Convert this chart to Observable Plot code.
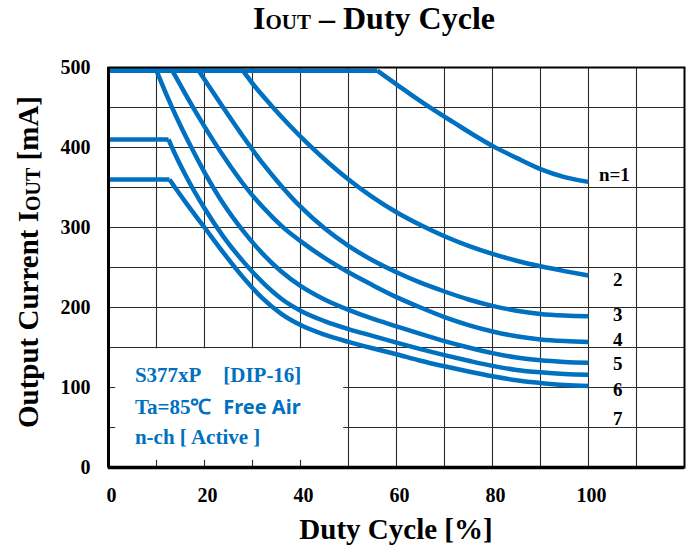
<!DOCTYPE html>
<html><head><meta charset="utf-8">
<script src="https://cdn.jsdelivr.net/npm/d3@7"></script>
<script src="https://cdn.jsdelivr.net/npm/@observablehq/plot@0.6"></script>
<style>
body{margin:0;background:#fff;}
#title{height:46px;line-height:45px;font:bold 32px "Liberation Serif",serif;text-align:center;padding-left:56px;box-sizing:border-box;width:692px;color:#000;}
#title .sub{font-size:21px;}
#chart svg{overflow:visible;display:block;}
</style></head><body>
<div id="title">I<span class="sub">OUT</span> – Duty Cycle</div>
<div id="chart"></div>
<script>
// ---- data ----
const xTicks = [0, 20, 40, 60, 80, 100];
const yTicks = [0, 100, 200, 300, 400, 500];
const xGrid = [10, 20, 30, 40, 50, 60, 70, 80, 90, 100, 110];
const yGrid = [50, 100, 150, 200, 250, 300, 350, 400, 450];
const seriesNames = ["n=1", "2", "3", "4", "5", "6", "7"];

const n1 = [[0,496],[56,496],[60,479],[64,462],[68,446],[72,431],[76,416],[80,402],[85,387],[90,373],[95,363],[100,357]];
const n2 = [[0,496],[28,496],[30,480],[34,452],[38,426],[42,402],[46,380],[50,360],[55,338],[60,319],[65,303],[70,289],[75,277],[80,267],[85,258.5],[90,251.5],[95,245.5],[100,240]];
const n3 = [[0,496],[18.8,496],[21,476],[24,449],[28,414],[32,381],[36,352],[40,326],[45,299],[50,277],[55,259],[60,244],[65,231],[70,220],[75,210],[80,202],[85,196],[90,192],[95,190],[100,189]];
const n4 = [[0,496],[13.3,496],[16,467],[19,436],[22,407],[25,380],[28,355],[31,333],[34,314],[37,297],[40,283],[45,262],[50,244],[55,228],[60,213],[65,200],[70,188],[75,178],[80,170],[85,164],[90,160],[95,158],[100,157]];
const n5 = [[0,496],[10,496],[12,467],[14,440],[17,403],[20,369],[24,329],[28,296],[32,268],[36,245],[40,227],[45,210],[50,197],[55,186],[60,176.5],[65,167],[70,158],[75,150],[80,143],[85,137.5],[90,134],[95,132],[100,131]];
const n6 = [[0,410],[12.5,410],[14,390],[16,366],[20,324],[24,288],[28,258],[32,232],[36,211],[40,196],[45,183],[50,173],[55,164.5],[60,156],[65,148],[70,140.5],[75,133.5],[80,127],[85,122],[90,119],[95,117],[100,116]];
const n7 = [[0,360],[12.7,360],[16,332],[20,300],[24,268],[28,238],[32,212],[36,192],[40,178],[45,166],[50,157],[55,149],[60,141.5],[65,133.5],[70,126.5],[75,120],[80,114],[85,109],[90,105.5],[95,103],[100,102]];
const seriesValues = [n1, n2, n3, n4, n5, n6, n7];

// curve label annotations
const labelText = ["n=1", "2", "3", "4", "5", "6", "7"];
const labelX = [105.4, 106.1, 106.1, 106.1, 106.1, 106.1, 106.1];
const labelY = [366, 234, 190.5, 160, 130, 97.5, 60.5];

// info box annotation
const boxExtent = {x1: 1.5, x2: 49, y1: 9, y2: 148.5};
const boxText = ["S377xP", "[DIP-16]", "Ta=85℃", "Free Air", "n-ch [ Active ]"];
const boxTextX = [5.5, 23.9, 5.5, 23.9, 5.5];
const boxTextY = [115, 115, 75.4, 75.4, 37.5];
const boxTextFont = ["Liberation Serif", "Liberation Serif", "Liberation Serif", "Noto Sans", "Liberation Serif"];

// ---- build ----
const BLUE = "#0070C0";
// each curve: a flat (limit) segment followed by the descending part
const rows = [];
seriesValues.forEach((s, i) => {
  const flatEnd = s.findIndex(([, c]) => c !== s[0][1]) - 1;
  s.forEach(([d, c], j) => {
    if (j <= flatEnd) rows.push({seg: seriesNames[i] + "-flat", duty: d, current: c});
    if (j >= flatEnd) rows.push({seg: seriesNames[i] + "-curve", duty: d, current: c});
  });
});
const labels = labelText.map((t, i) => ({t, x: labelX[i], y: labelY[i]}));
const infos = boxText.map((t, i) => ({t, x: boxTextX[i], y: boxTextY[i], f: boxTextFont[i]}));

const plot = Plot.plot({
  width: 692, height: 506,
  marginLeft: 108, marginRight: 8, marginTop: 21, marginBottom: 85,
  style: {fontFamily: "Liberation Serif, serif", fontSize: "20px", fontWeight: "bold", color: "#000", background: "#fff"},
  x: {domain: [0, 120], ticks: xTicks, tickSize: 0, tickPadding: 20, label: null},
  y: {domain: [0, 500], ticks: yTicks, tickSize: 0, tickPadding: 18, label: null},
  marks: [
    Plot.ruleX(xGrid, {stroke: "#2a2a2a", strokeWidth: 1.1}),
    Plot.ruleY(yGrid, {stroke: "#2a2a2a", strokeWidth: 1.1}),
    Plot.rect([boxExtent], {x1: "x1", x2: "x2", y1: "y1", y2: "y2", fill: "white"}),
    Plot.line(rows, {x: "duty", y: "current", z: "seg", stroke: BLUE, strokeWidth: 4.5, curve: "monotone-x", strokeLinejoin: "round", strokeLinecap: "butt"}),
    Plot.frame({stroke: "#000", strokeWidth: 2}),
    Plot.ruleX([0], {stroke: "#000", strokeWidth: 3}),
    Plot.ruleY([0], {stroke: "#000", strokeWidth: 3.5}),
    Plot.axisX({ticks: xTicks, tickSize: 0, tickPadding: 20, dx: 3, label: null}),
    Plot.text(labels, {x: "x", y: "y", text: "t", fontSize: 19, fontWeight: "bold", fill: "#000", fontFamily: "Liberation Serif"}),
    Plot.text(infos.filter(d => d.f !== "Noto Sans"), {x: "x", y: "y", text: "t", textAnchor: "start", fontSize: 21, fontWeight: "bold", fill: BLUE, fontFamily: "Liberation Serif"}),
    Plot.text(infos.filter(d => d.f === "Noto Sans"), {x: "x", y: "y", text: "t", textAnchor: "start", fontSize: 20, fontWeight: "bold", fill: BLUE, fontFamily: "Noto Sans"})
  ]
});
document.getElementById("chart").appendChild(plot);

const svg = d3.select(plot);
// x axis title
svg.append("text")
  .attr("x", 396).attr("y", 493)
  .attr("text-anchor", "middle")
  .attr("font-family", "Liberation Serif, serif").attr("font-weight", "bold").attr("font-size", 29)
  .attr("fill", "#000")
  .text("Duty Cycle [%]");
// y axis title with subscript
const yl = svg.append("text")
  .attr("transform", "translate(38,216) rotate(-90)")
  .attr("text-anchor", "middle")
  .attr("font-family", "Liberation Serif, serif").attr("font-weight", "bold").attr("font-size", 29)
  .attr("fill", "#000");
yl.append("tspan").text("Output Current I");
yl.append("tspan").attr("font-size", 20).attr("dy", 2).text("OUT");
yl.append("tspan").attr("dy", -2).text(" [mA]");
</script>
</body></html>
